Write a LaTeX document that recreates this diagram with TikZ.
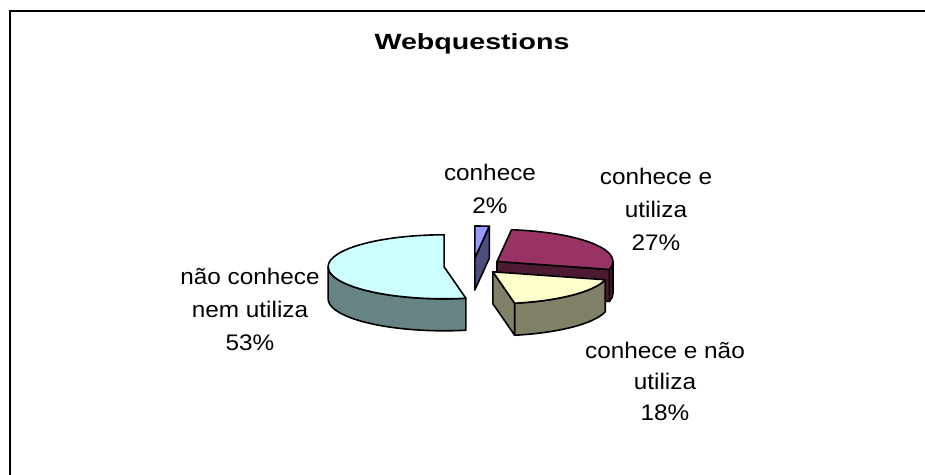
\documentclass[tikz,border=0pt]{standalone}
\usepackage{fontspec}
\setmainfont{Liberation Sans}
\newfontfamily\lblfont[FakeStretch=1.08]{Liberation Sans}
\newfontfamily\ttlfont[FakeStretch=1.3]{Liberation Sans}
\usetikzlibrary{calc}
\definecolor{cyantop}{HTML}{CCFFFF}
\definecolor{cyanside}{HTML}{668484}
\definecolor{maroontop}{HTML}{993366}
\definecolor{maroonside}{HTML}{4D1A33}
\definecolor{yellowtop}{HTML}{FFFFCC}
\definecolor{yellowside}{HTML}{808066}
\definecolor{bluetop}{HTML}{9999FF}
\definecolor{blueside}{HTML}{4D4D80}
\tikzset{
  slice/.style={draw=black, line width=1.2pt, line join=round},
  er/.style={x radius=87pt, y radius=24pt},
  lbl/.style={anchor=base, align=center, inner sep=0pt,
    font={\lblfont\fontsize{16.9}{24.75}\selectfont}},
  ttl/.style={anchor=base, inner sep=0pt,
    font={\ttlfont\bfseries\fontsize{16.5}{18}\selectfont}}
}
\begin{document}
\begin{tikzpicture}[x=0.75pt,y=0.75pt]
\useasboundingbox (0,-475) rectangle (925,0);
\fill[white] (0,-475) rectangle (925,0);
\draw[line width=1.5pt] (9.5,-475) -- (9.5,-11) -- (925,-11);

\node[ttl] (title) at (472,-49) {Webquestions};

% apex coordinates of the exploded slices
\coordinate (cM) at (497,-261.5);
\coordinate (cB) at (474.8,-258);
\coordinate (cC) at (444.1,-266.8);
\coordinate (cY) at (492.9,-271.8);

% conhece e utiliza (27%)
\filldraw[slice, fill=maroonside] ($(cM)+(-14.4:87pt and 24pt)$)
  arc[er, start angle=-14.4, end angle=0]
  -- ++(0,-24pt)
  arc[er, start angle=0, end angle=-14.4] -- cycle;
\filldraw[slice, fill=maroonside] (cM) -- ($(cM)+(-14.4:87pt and 24pt)$)
  -- ++(0,-24pt) -- ($(cM)+(0,-24pt)$) -- cycle;
\filldraw[slice, fill=maroontop] (cM) -- ($(cM)+(-14.4:87pt and 24pt)$)
  arc[er, start angle=-14.4, end angle=82.8] -- cycle;

% conhece (2%)
\filldraw[slice, fill=blueside] (cB) -- ($(cB)+(82.8:87pt and 24pt)$)
  -- ++(0,-24pt) -- ($(cB)+(0,-24pt)$) -- cycle;
\filldraw[slice, fill=bluetop] (cB) -- ($(cB)+(82.8:87pt and 24pt)$)
  arc[er, start angle=82.8, end angle=90] -- cycle;

% nao conhece nem utiliza (53%)
\filldraw[slice, fill=cyanside] ($(cC)+(180:87pt and 24pt)$)
  arc[er, start angle=180, end angle=280.8]
  -- ++(0,-24pt)
  arc[er, start angle=280.8, end angle=180] -- cycle;
\filldraw[slice, fill=cyantop] (cC) -- ($(cC)+(90:87pt and 24pt)$)
  arc[er, start angle=90, end angle=280.8] -- cycle;

% conhece e nao utiliza (18%)
\filldraw[slice, fill=yellowside] ($(cY)+(-79.2:87pt and 24pt)$)
  arc[er, start angle=-79.2, end angle=-14.4]
  -- ++(0,-24pt)
  arc[er, start angle=-14.4, end angle=-79.2] -- cycle;
\filldraw[slice, fill=yellowside] (cY) -- ($(cY)+(-79.2:87pt and 24pt)$)
  -- ++(0,-24pt) -- ($(cY)+(0,-24pt)$) -- cycle;
\filldraw[slice, fill=yellowtop] (cY) -- ($(cY)+(-79.2:87pt and 24pt)$)
  arc[er, start angle=-79.2, end angle=-14.4] -- cycle;

% labels (anchor base = baseline of the last line)
\node[lbl] (l2) at (490,-213) {conhece\\2\%};
\node[lbl] (l27) at (656,-250) {conhece e\\utiliza\\27\%};
\node[lbl] (l53) at (250,-350) {não conhece\\nem utiliza\\53\%};
\node[lbl, font={\lblfont\fontsize{16.9}{23.25}\selectfont}] (l18) at (665,-420) {conhece e não\\utiliza\\18\%};
\end{tikzpicture}
\end{document}
